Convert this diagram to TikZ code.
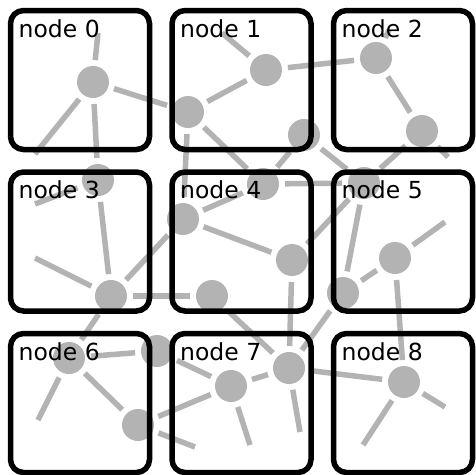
\documentclass[tikz,border=0pt]{standalone}
\usepackage{fontspec}
\setmainfont{DejaVu Sans}
\definecolor{netgray}{RGB}{179,179,179}
\tikzstyle{vertex}=[circle,fill=netgray,minimum size=32pt,inner sep=0pt,outer sep=6pt]
\tikzstyle{link}=[netgray,line width=5.5pt]
\tikzstyle{cell}=[draw,line width=5.5pt,rounded corners=13pt,minimum size=139pt,inner sep=0pt,outer sep=0pt]
\tikzstyle{celllabel}=[anchor=base west,inner sep=0pt,font=\fontsize{23.5}{28}\selectfont]
\begin{document}
\begin{tikzpicture}[x=1pt,y=-1pt]
  \useasboundingbox (0,0) rectangle (475,475);
  % network vertices
  \foreach \i/\x/\y in {0/93/82, 1/188/112, 2/266/70, 3/376/58, 4/422/131,
      5/304/135, 6/263/184, 7/364/183, 8/98/180, 9/183/219, 10/292/260,
      11/395/258, 12/111/296, 13/212/296, 14/343/293, 15/157/351,
      16/69/358, 17/231/386, 18/289/368, 19/138/425, 20/404/382} {
    \node[vertex] (v\i) at (\x,\y) {};
  }
  % loose ends
  \foreach \i/\x/\y in {0/98/33, 1/35/154, 2/222/33, 3/389/30, 4/448/157,
      5/35/204, 6/445/222, 7/35/258, 8/38/420, 9/250/445, 10/300/432,
      11/195/447, 12/363/445, 13/445/407} {
    \coordinate (loose\i) at (\x,\y);
  }
  \foreach \a/\b in {0/8, 0/1, 1/2, 1/9, 1/6, 2/3, 3/4, 4/7, 5/7, 5/6,
      6/7, 9/6, 7/10, 7/14, 8/12, 9/10, 9/12, 10/18, 11/14, 11/20,
      14/18, 12/13, 12/16, 13/18, 15/16, 15/17, 16/19, 17/19, 17/18, 18/20} {
    \draw[link] (v\a) -- (v\b);
  }
  \foreach \a/\b in {0/0, 0/1, 2/2, 3/3, 4/4, 8/5, 11/6, 12/7, 16/8,
      17/9, 18/10, 19/11, 20/12, 20/13} {
    \draw[link] (v\a) -- (loose\b);
  }
  % the nine cells
  \foreach \i in {0,...,8} {
    \pgfmathtruncatemacro{\col}{mod(\i,3)}
    \pgfmathtruncatemacro{\row}{div(\i,3)}
    \node[cell] (box\i) at (80+161.5*\col,80+161.5*\row) {};
    \node[celllabel] (lab\i) at ([xshift=8pt,yshift=-26.5pt]box\i.north west) {node \i};
  }
\end{tikzpicture}
\end{document}
